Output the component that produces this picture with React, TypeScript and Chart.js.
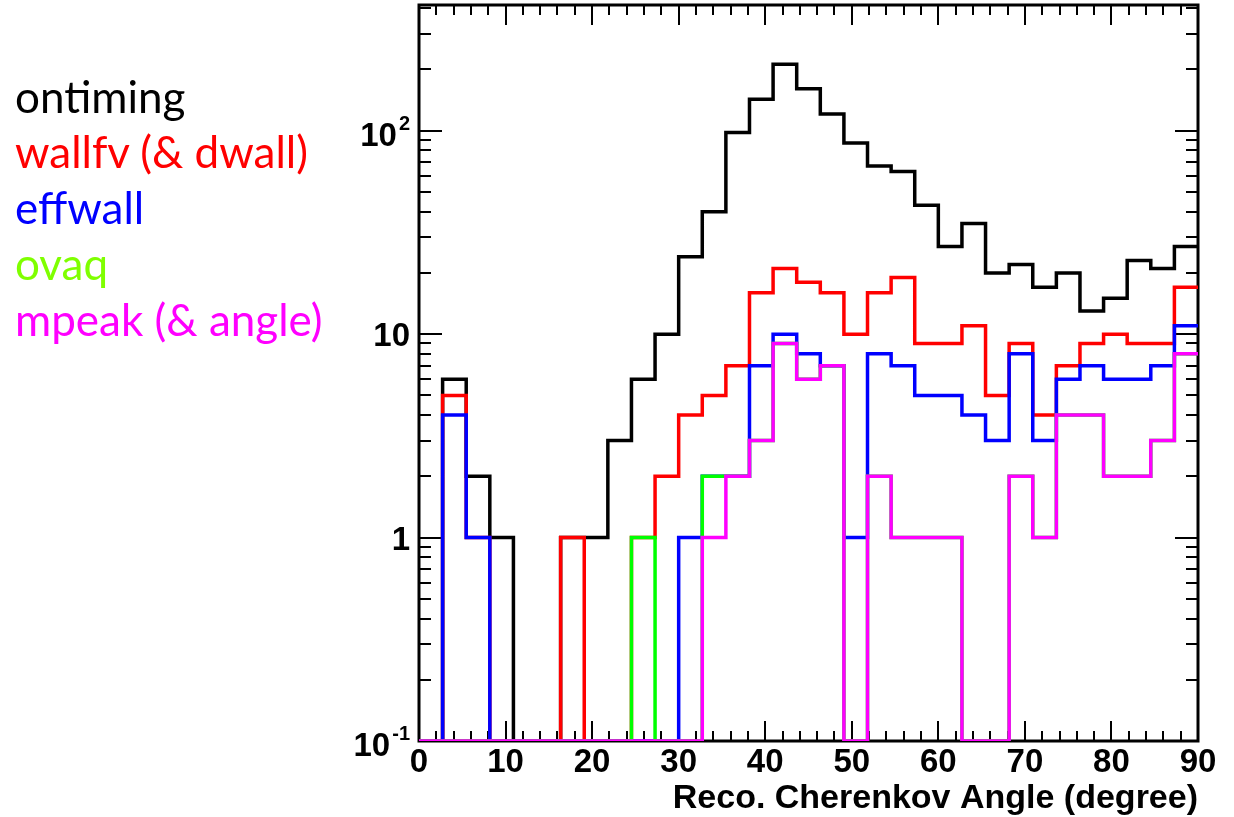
import React, { useEffect, useRef } from "react";
import { Chart, registerables } from "chart.js";

Chart.register(...registerables);

// ---- data ----
const X_MIN = 0;
const X_MAX = 90;
const BIN_COUNT = 33;
const Y_MIN = 0.1;
const Y_MAX = 415;

const X_MAJOR_STEP = 10;
const X_MINOR_STEP = 2;
const Y_TICK_VALUES = [0.1, 1, 10, 100];
const Y_TICK_BASE = ["10", "1", "10", "10"];
const Y_TICK_EXP = ["-1", "", "", "2"];

const X_TITLE = "Reco. Cherenkov Angle (degree)";

const SERIES_NAMES = ["ontiming", "wallfv (& dwall)", "effwall", "ovaq", "mpeak (& angle)"];
const LINE_COLORS = ["#000000", "#ff0000", "#0000ff", "#00ff00", "#ff00ff"];
const TEXT_COLORS = ["#000000", "#ff0000", "#0000ff", "#7fff00", "#ff00ff"];

const ontiming = [0, 6, 2, 1, 0, 0, 1, 1, 3, 6, 10, 24, 40, 98, 143, 212, 161, 121, 87, 67, 63, 43, 27, 35, 20, 22, 17, 20, 13, 15, 23, 21, 27];
const wallfv = [0, 5, 1, 0, 0, 0, 1, 0, 0, 1, 2, 4, 5, 7, 16, 21, 18, 16, 10, 16, 19, 9, 9, 11, 5, 9, 4, 7, 9, 10, 9, 9, 17];
const effwall = [0, 4, 1, 0, 0, 0, 0, 0, 0, 0, 0, 1, 2, 2, 7, 10, 8, 7, 1, 8, 7, 5, 5, 4, 3, 8, 3, 6, 7, 6, 6, 7, 11];
const ovaq = [0, 0, 0, 0, 0, 0, 0, 0, 0, 1, 0, 0, 2, 2, 3, 9, 6, 7, 0, 2, 1, 1, 1, 0, 0, 2, 1, 4, 4, 2, 2, 3, 8];
const mpeak = [0, 0, 0, 0, 0, 0, 0, 0, 0, 0, 0, 0, 1, 2, 3, 9, 6, 7, 0, 2, 1, 1, 1, 0, 0, 2, 1, 4, 4, 2, 2, 3, 8];

const SERIES = [ontiming, wallfv, effwall, ovaq, mpeak];

// histogram outline points: left edge of each bin, plus the right edge of the last bin
function histPoints(counts: number[]) {
  const w = (X_MAX - X_MIN) / BIN_COUNT;
  const pts = counts.map((c, i) => ({ x: X_MIN + i * w, y: c > 0 ? c : Y_MIN }));
  const last = counts[counts.length - 1];
  pts.push({ x: X_MAX, y: last > 0 ? last : Y_MIN });
  return pts;
}

const FONT_FAMILY = "'Liberation Sans', Arial, Helvetica, sans-serif";
const TICK_FONT = { family: FONT_FAMILY, weight: "bold" as const, size: 33 };

const framePlugin = {
  id: "rootFrame",
  beforeDatasetsDraw(chart: any) {
    const { ctx, chartArea: a, scales } = chart;
    const xs = scales.x;
    const ys = scales.y;
    ctx.save();
    ctx.strokeStyle = "#000";
    ctx.lineWidth = 2;
    ctx.beginPath();
    for (let v = X_MIN; v <= X_MAX + 1e-9; v += X_MINOR_STEP) {
      const px = Math.round(xs.getPixelForValue(v));
      const r = v / X_MAJOR_STEP;
      const major = Math.abs(r - Math.round(r)) < 1e-9;
      const len = major ? 20 : 10;
      ctx.moveTo(px, a.bottom);
      ctx.lineTo(px, a.bottom - len);
      ctx.moveTo(px, a.top);
      ctx.lineTo(px, a.top + len);
    }
    for (const d of Y_TICK_VALUES) {
      for (let m = 1; m <= 9; m++) {
        const v = m * d;
        if (v < Y_MIN * 0.999 || v > Y_MAX) continue;
        const py = Math.round(ys.getPixelForValue(v));
        const len = m === 1 ? 23 : 12;
        ctx.moveTo(a.left, py);
        ctx.lineTo(a.left + len, py);
        ctx.moveTo(a.right, py);
        ctx.lineTo(a.right - len, py);
      }
    }
    ctx.stroke();
    ctx.lineWidth = 3;
    ctx.strokeRect(a.left, a.top, a.right - a.left, a.bottom - a.top);
    ctx.restore();
  },
  afterDraw(chart: any) {
    // y tick labels with real superscripts (ROOT style), placed on the scale's ticks
    const { ctx, chartArea: a, scales } = chart;
    const ys = scales.y;
    ctx.save();
    ctx.fillStyle = "#000";
    ctx.textBaseline = "alphabetic";
    ctx.textAlign = "left";
    const right = a.left - 9;
    ys.ticks.forEach((t: any) => {
      const idx = Y_TICK_VALUES.findIndex((v) => Math.abs(v - t.value) < 1e-9 * Math.max(1, v));
      if (idx < 0) return;
      const base = Y_TICK_BASE[idx];
      const exp = Y_TICK_EXP[idx];
      const py = ys.getPixelForValue(t.value);
      ctx.font = `bold 33px ${FONT_FAMILY}`;
      const bw = ctx.measureText(base).width;
      ctx.font = `bold 20px ${FONT_FAMILY}`;
      const ew = exp ? ctx.measureText(exp).width + 2 : 0;
      const baseline = py + (exp ? 15 : 12);
      const x0 = right - bw - ew;
      ctx.font = `bold 33px ${FONT_FAMILY}`;
      ctx.fillText(base, x0, baseline);
      if (exp) {
        ctx.font = `bold 20px ${FONT_FAMILY}`;
        ctx.fillText(exp, x0 + bw + 2, baseline - 16);
      }
    });
    ctx.restore();
  },
};

export default function App() {
  const canvasRef = useRef<HTMLCanvasElement | null>(null);

  useEffect(() => {
    const canvas = canvasRef.current;
    if (!canvas) return;
    const datasets = SERIES.map((s, i) => ({
      label: SERIES_NAMES[i],
      data: histPoints(s),
      borderColor: LINE_COLORS[i],
      backgroundColor: LINE_COLORS[i],
      borderWidth: 3.5,
      pointRadius: 0,
      stepped: "before" as const,
      fill: false,
      tension: 0,
      order: SERIES.length - i,
    }));

    const chart = new Chart(canvas, {
      type: "line",
      data: { datasets },
      options: {
        animation: false,
        responsive: false,
        devicePixelRatio: 1,
        layout: { padding: { left: 0, top: 5, right: 36, bottom: 0 } },
        plugins: { legend: { display: false }, tooltip: { enabled: false }, title: { display: false } },
        scales: {
          x: {
            type: "linear",
            min: X_MIN,
            max: X_MAX,
            offset: false,
            grid: { display: false, drawTicks: false },
            border: { display: false },
            ticks: {
              stepSize: X_MAJOR_STEP,
              autoSkip: false,
              maxRotation: 0,
              padding: 2,
              color: "#000",
              font: TICK_FONT,
            },
            title: {
              display: true,
              text: X_TITLE,
              align: "end",
              color: "#000",
              padding: { top: 0, bottom: -2 },
              font: { family: FONT_FAMILY, weight: "bold", size: 34 },
            },
            afterFit: (scale: any) => {
              scale.height = 76;
              scale.paddingLeft = 0;
              scale.paddingRight = 0;
            },
          },
          y: {
            type: "logarithmic",
            min: Y_MIN,
            max: Y_MAX,
            grid: { display: false, drawTicks: false },
            border: { display: false },
            afterBuildTicks: (scale: any) => {
              scale.ticks = Y_TICK_VALUES.map((v) => ({ value: v }));
            },
            ticks: {
              display: false,
              autoSkip: false,
            },
            afterFit: (scale: any) => {
              scale.width = 419;
              scale.paddingTop = 0;
              scale.paddingBottom = 0;
            },
          },
        },
      },
      plugins: [framePlugin],
    } as any);

    return () => {
      chart.destroy();
    };
  }, []);

  const legendTops = [74, 129, 185, 241, 297];

  return (
    <div style={{ position: "fixed", left: 0, top: 0, width: 1234, height: 817, background: "#fff", overflow: "hidden" }}>
      <canvas ref={canvasRef} width={1234} height={817} style={{ position: "absolute", left: 0, top: 0, display: "block" }} />
      {SERIES_NAMES.map((name, i) => (
        <div
          key={name}
          style={{
            position: "absolute",
            left: 15,
            top: legendTops[i],
            fontFamily: "Lato, 'Open Sans', sans-serif",
            fontSize: 44,
            lineHeight: "44px",
            color: TEXT_COLORS[i],
            whiteSpace: "nowrap",
          }}
        >
          {name}
        </div>
      ))}
    </div>
  );
}
